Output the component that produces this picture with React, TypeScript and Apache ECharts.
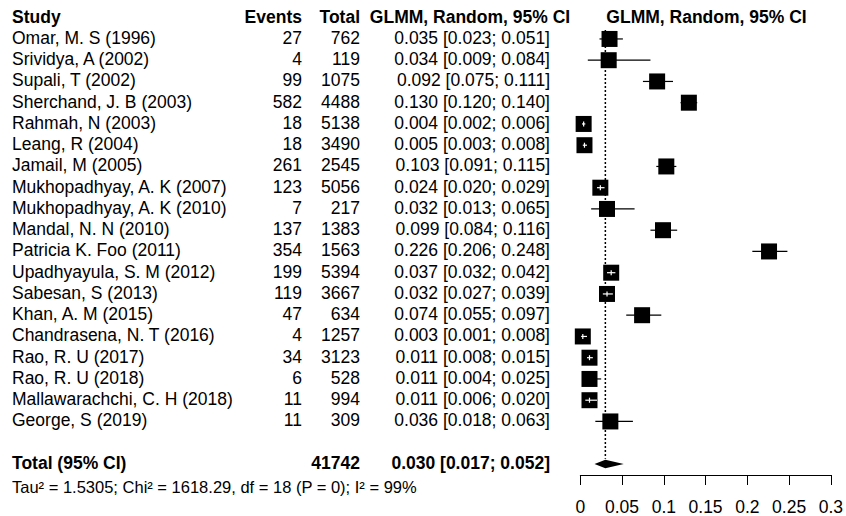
import React, { useEffect, useRef } from "react";
import * as echarts from "echarts";

const studies = [
  "Omar, M. S (1996)",
  "Srividya, A (2002)",
  "Supali, T (2002)",
  "Sherchand, J. B (2003)",
  "Rahmah, N (2003)",
  "Leang, R (2004)",
  "Jamail, M (2005)",
  "Mukhopadhyay, A. K (2007)",
  "Mukhopadhyay, A. K (2010)",
  "Mandal, N. N (2010)",
  "Patricia K. Foo (2011)",
  "Upadhyayula, S. M (2012)",
  "Sabesan, S (2013)",
  "Khan, A. M (2015)",
  "Chandrasena, N. T (2016)",
  "Rao, R. U (2017)",
  "Rao, R. U (2018)",
  "Mallawarachchi, C. H (2018)",
  "George, S (2019)",
];
const events = [27, 4, 99, 582, 18, 18, 261, 123, 7, 137, 354, 199, 119, 47, 4, 34, 6, 11, 11];
const totals = [762, 119, 1075, 4488, 5138, 3490, 2545, 5056, 217, 1383, 1563, 5394, 3667, 634, 1257, 3123, 528, 994, 309];
const estimates = [0.035, 0.034, 0.092, 0.13, 0.004, 0.005, 0.103, 0.024, 0.032, 0.099, 0.226, 0.037, 0.032, 0.074, 0.003, 0.011, 0.011, 0.011, 0.036];
const lowers = [0.023, 0.009, 0.075, 0.12, 0.002, 0.003, 0.091, 0.02, 0.013, 0.084, 0.206, 0.032, 0.027, 0.055, 0.001, 0.008, 0.004, 0.006, 0.018];
const uppers = [0.051, 0.084, 0.111, 0.14, 0.006, 0.008, 0.115, 0.029, 0.065, 0.116, 0.248, 0.042, 0.039, 0.097, 0.008, 0.015, 0.025, 0.02, 0.063];

const totalLabel = "Total (95% CI)";
const totalN = 41742;
const pooled = { est: 0.03, lower: 0.017, upper: 0.052 };
const heterogeneity = "Tau² = 1.5305; Chi² = 1618.29, df = 18 (P = 0); I² = 99%";
const headers = ["Study", "Events", "Total", "GLMM, Random, 95% CI", "GLMM, Random, 95% CI"];
const xTickMin = 0;
const xTickMax = 0.3;
const xTickStep = 0.05;

const FONT = "'Liberation Sans', Arial, Helvetica, sans-serif";
const FS = 17.5;
const fmt = (v: number) => v.toFixed(3);
const ciText = (e: number, l: number, u: number) => `${fmt(e)} [${fmt(l)}; ${fmt(u)}]`;

const TOTAL_ROW = 20;
const HEADER_ROW = -1;
const HET_ROW = 21.12;

// column x positions (layout)
const X_STUDY = 12;
const X_EVENTS = 302;
const X_TOTAL = 360;
const X_CI = 550;
const X_CI_HEADER = 470;
const X_PLOT_HEADER = 706.5;

function txt(text: string, x: number, y: number, align: string, bold = false, size = FS) {
  return {
    type: "text",
    style: {
      text,
      x,
      y,
      align,
      verticalAlign: "middle",
      fill: "#000",
      fontFamily: FONT,
      fontSize: size,
      fontWeight: bold ? "bold" : "normal",
    },
  };
}

export default function App() {
  const ref = useRef<HTMLDivElement>(null);
  useEffect(() => {
    document.body.style.margin = "0";
    const chart = echarts.init(ref.current!, null, { renderer: "svg" });
    const rowY = (api: any, row: number) => api.coord([0, row])[1] - 1;

    const tableData = studies.map((_, i) => [i, i]);
    const forestData = studies.map((_, i) => [i, estimates[i], lowers[i], uppers[i]]);

    chart.setOption({
      animation: false,
      grid: { left: 580.3, right: 13.3, top: 17.7, bottom: 40, containLabel: false },
      xAxis: {
        type: "value",
        position: "bottom",
        min: xTickMin,
        max: xTickMax,
        interval: xTickStep,
        splitLine: { show: false },
        axisLine: { show: true, onZero: false, lineStyle: { color: "#000", width: 1 } },
        axisTick: { show: true, length: 10, lineStyle: { color: "#000", width: 1 } },
        axisLabel: {
          color: "#000",
          fontSize: FS,
          fontFamily: FONT,
          margin: 23,
          formatter: (v: number) => String(parseFloat(v.toFixed(2))),
        },
      },
      yAxis: {
        type: "value",
        inverse: true,
        min: -1,
        max: 20.52,
        show: false,
      },
      series: [
        {
          type: "custom",
          name: "table",
          data: tableData,
          encode: { x: 1, y: 0 },
          silent: true,
          renderItem: (params: any, api: any) => {
            const i = params.dataIndex;
            const y = rowY(api, i);
            return {
              type: "group",
              children: [
                txt(studies[i], X_STUDY, y, "left"),
                txt(String(events[i]), X_EVENTS, y, "right"),
                txt(String(totals[i]), X_TOTAL, y, "right"),
                txt(ciText(estimates[i], lowers[i], uppers[i]), X_CI, y, "right"),
              ],
            };
          },
        },
        {
          type: "custom",
          name: "headers",
          data: [[0, HEADER_ROW]],
          encode: { x: 0, y: 1 },
          silent: true,
          renderItem: (_p: any, api: any) => {
            const y = rowY(api, HEADER_ROW);
            const yT = rowY(api, TOTAL_ROW);
            const yH = rowY(api, HET_ROW);
            return {
              type: "group",
              children: [
                txt(headers[0], X_STUDY, y, "left", true),
                txt(headers[1], X_EVENTS, y, "right", true),
                txt(headers[2], X_TOTAL, y, "right", true),
                txt(headers[3], X_CI_HEADER, y, "center", true),
                txt(headers[4], X_PLOT_HEADER, y, "center", true),
                txt(totalLabel, X_STUDY, yT, "left", true),
                txt(String(totalN), X_TOTAL, yT, "right", true),
                txt(ciText(pooled.est, pooled.lower, pooled.upper), X_CI, yT, "right", true),
                txt(heterogeneity, X_STUDY, yH, "left", false, 16.5),
              ],
            };
          },
        },
        {
          type: "custom",
          name: "reference",
          data: [[pooled.est, -0.42, TOTAL_ROW - 0.25]],
          encode: { x: 0, y: 1 },
          silent: true,
          z: 1,
          renderItem: (_p: any, api: any) => {
            const [x, y1] = api.coord([api.value(0), api.value(1)]);
            const y2 = api.coord([api.value(0), api.value(2)])[1];
            return {
              type: "line",
              shape: { x1: x, y1, x2: x, y2 },
              style: { stroke: "#000", lineWidth: 1.5, lineDash: [2, 2], fill: null },
            };
          },
        },
        {
          type: "custom",
          name: "forest",
          data: forestData,
          encode: { x: 1, y: 0 },
          silent: true,
          z: 3,
          renderItem: (_p: any, api: any) => {
            const row = api.value(0);
            const [cx, cy] = api.coord([api.value(1), row]);
            const xl = api.coord([api.value(2), row])[0];
            const xh = api.coord([api.value(3), row])[0];
            const half = 8;
            const inside = xl >= cx - half && xh <= cx + half;
            const children: any[] = [];
            if (!inside) {
              children.push({
                type: "line",
                shape: { x1: xl, y1: cy, x2: xh, y2: cy },
                style: { stroke: "#000", lineWidth: 1.2 },
              });
            }
            children.push({
              type: "rect",
              shape: { x: cx - half, y: cy - half, width: half * 2, height: half * 2 },
              style: { fill: "#000" },
            });
            if (inside) {
              children.push({
                type: "line",
                shape: { x1: xl, y1: cy, x2: xh, y2: cy },
                style: { stroke: "#fff", lineWidth: 1.2 },
              });
              children.push({
                type: "line",
                shape: { x1: cx, y1: cy - 2.5, x2: cx, y2: cy + 2.5 },
                style: { stroke: "#fff", lineWidth: 1.2 },
              });
            }
            return { type: "group", children };
          },
        },
        {
          type: "custom",
          name: "pooled",
          data: [[pooled.est, TOTAL_ROW, pooled.lower, pooled.upper]],
          encode: { x: 0, y: 1 },
          silent: true,
          z: 3,
          renderItem: (_p: any, api: any) => {
            const row = api.value(1);
            const [cx, cy] = api.coord([api.value(0), row]);
            const xl = api.coord([api.value(2), row])[0];
            const xh = api.coord([api.value(3), row])[0];
            const h = 4.3;
            return {
              type: "polygon",
              shape: { points: [[xl, cy], [cx, cy - h], [xh, cy], [cx, cy + h]] },
              style: { fill: "#000" },
            };
          },
        },
      ],
    });
    return () => chart.dispose();
  }, []);
  return <div ref={ref} style={{ width: 846, height: 516 }} />;
}
